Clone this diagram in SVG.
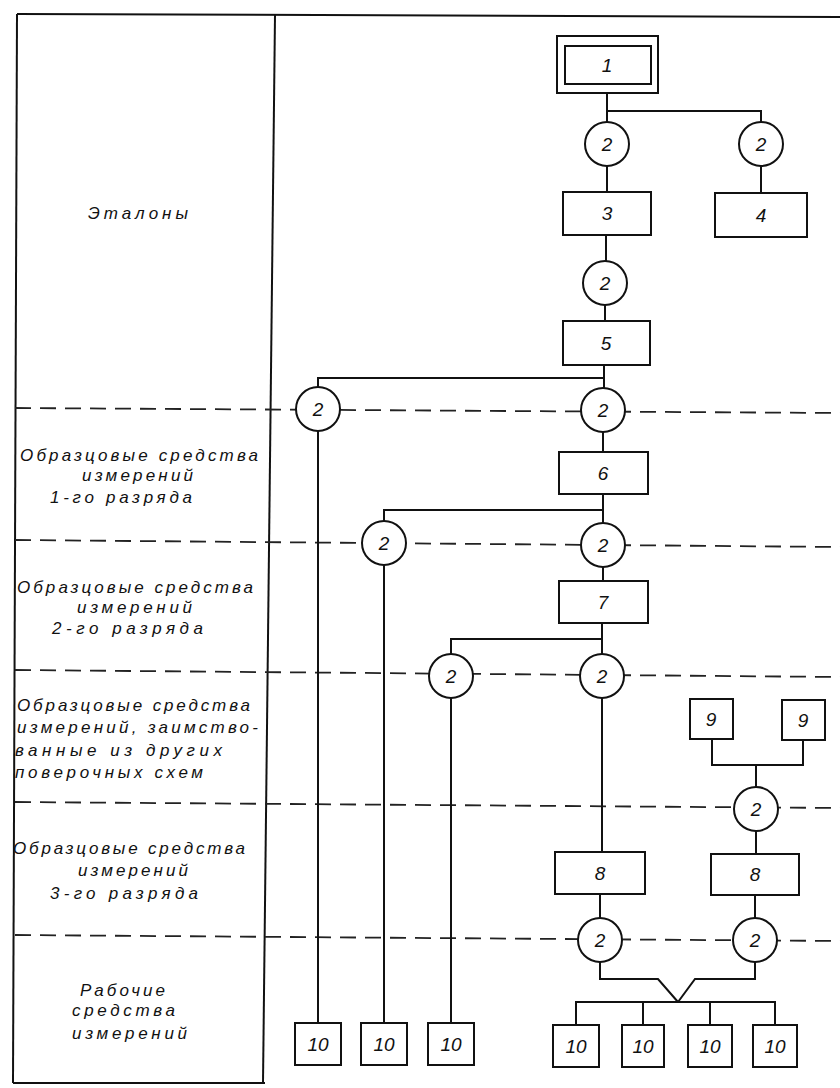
<svg xmlns="http://www.w3.org/2000/svg" width="840" height="1088" viewBox="0 0 840 1088">
<style>
.frame{stroke:#111;stroke-width:2;fill:none}
.dash{stroke:#222;stroke-width:1.8;fill:none;stroke-dasharray:16 9}
.box{fill:#fff;stroke:#111;stroke-width:2}
.circ{fill:#fff;stroke:#111;stroke-width:2}
.wire{stroke:#111;stroke-width:2;fill:none}
.num{font-family:"Liberation Sans",Arial,sans-serif;font-style:italic;font-size:19px;fill:#111;text-anchor:middle}
.lbl{font-family:"Liberation Sans",Arial,sans-serif;font-style:italic;font-size:17px;fill:#111}
</style>
<rect width="840" height="1088" fill="#fff"/>
<g id="frame">
<line class="frame" x1="17" y1="14" x2="840" y2="17"/>
<line class="frame" x1="17" y1="14" x2="13" y2="1083"/>
<line class="frame" x1="275" y1="15" x2="263" y2="1083"/>
<line class="frame" x1="13" y1="1083" x2="265" y2="1083"/>
<line class="dash" x1="15" y1="408" x2="840" y2="413"/>
<line class="dash" x1="15" y1="540" x2="840" y2="547"/>
<line class="dash" x1="15" y1="670" x2="840" y2="677"/>
<line class="dash" x1="15" y1="802" x2="840" y2="808"/>
<line class="dash" x1="15" y1="935" x2="840" y2="941"/>
</g>
<g id="labels">
<text class="lbl" x="88" y="219" textLength="100" lengthAdjust="spacing">Эталоны</text>
<text class="lbl" x="20" y="461" textLength="238" lengthAdjust="spacing">Образцовые средства</text>
<text class="lbl" x="82" y="481" textLength="111" lengthAdjust="spacing">измерений</text>
<text class="lbl" x="50" y="503" textLength="142" lengthAdjust="spacing">1-го  разряда</text>
<text class="lbl" x="17" y="593" textLength="236" lengthAdjust="spacing">Образцовые средства</text>
<text class="lbl" x="77" y="613" textLength="115" lengthAdjust="spacing">измерений</text>
<text class="lbl" x="52" y="634" textLength="151" lengthAdjust="spacing">2-го  разряда</text>
<text class="lbl" x="17" y="711" textLength="233" lengthAdjust="spacing">Образцовые средства</text>
<text class="lbl" x="17" y="733" textLength="241" lengthAdjust="spacing">измерений, заимство-</text>
<text class="lbl" x="15" y="756" textLength="207" lengthAdjust="spacing">ванные из других</text>
<text class="lbl" x="15" y="778" textLength="188" lengthAdjust="spacing">поверочных схем</text>
<text class="lbl" x="13" y="854" textLength="232" lengthAdjust="spacing">Образцовые средства</text>
<text class="lbl" x="78" y="876" textLength="110" lengthAdjust="spacing">измерений</text>
<text class="lbl" x="50" y="899" textLength="148" lengthAdjust="spacing">3-го  разряда</text>
<text class="lbl" x="80" y="996" textLength="85" lengthAdjust="spacing">Рабочие</text>
<text class="lbl" x="72" y="1016" textLength="103" lengthAdjust="spacing">средства</text>
<text class="lbl" x="72" y="1039" textLength="115" lengthAdjust="spacing">измерений</text>
</g>
<g id="connectors">
<polyline class="wire" points="607,93 607,122"/>
<polyline class="wire" points="607,111 761,111 761,122"/>
<polyline class="wire" points="607,166 607,192"/>
<polyline class="wire" points="761,166 761,193"/>
<polyline class="wire" points="606,235 606,261"/>
<polyline class="wire" points="605,305 605,321"/>
<polyline class="wire" points="604,365 604,389"/>
<polyline class="wire" points="604,378 318,378 318,388"/>
<polyline class="wire" points="603,432 603,452"/>
<polyline class="wire" points="603,494 603,523"/>
<polyline class="wire" points="603,510 384,510 384,521"/>
<polyline class="wire" points="603,567 603,581"/>
<polyline class="wire" points="602,623 602,654"/>
<polyline class="wire" points="602,639 451,639 451,654"/>
<polyline class="wire" points="602,698 602,852"/>
<polyline class="wire" points="318,431 318,1023"/>
<polyline class="wire" points="384,565 384,1023"/>
<polyline class="wire" points="451,698 451,1023"/>
<polyline class="wire" points="712,739 712,765 803,765 803,740"/>
<polyline class="wire" points="756,765 756,787"/>
<polyline class="wire" points="756,831 756,854"/>
<polyline class="wire" points="600,894 600,918"/>
<polyline class="wire" points="755,895 755,918"/>
<polyline class="wire" points="600,962 600,979 658,979 678,1002"/>
<polyline class="wire" points="755,962 755,979 695,979 678,1002"/>
<polyline class="wire" points="576,1025 576,1002 775,1002 775,1025"/>
<polyline class="wire" points="643,1002 643,1025"/>
<polyline class="wire" points="710,1002 710,1025"/>
</g>
<g id="n1"><rect class="box" x="557" y="36" width="101" height="57"/><rect class="box" x="565" y="46" width="86" height="38"/><text class="num" x="607" y="72">1</text></g>
<g id="c2a"><circle class="circ" cx="607" cy="144" r="22"/><text class="num" x="607" y="151">2</text></g>
<g id="c2b"><circle class="circ" cx="761" cy="144" r="22"/><text class="num" x="761" y="151">2</text></g>
<g id="n3"><rect class="box" x="563" y="192" width="88" height="43"/><text class="num" x="607" y="220">3</text></g>
<g id="n4"><rect class="box" x="715" y="193" width="92" height="44"/><text class="num" x="761" y="222">4</text></g>
<g id="c2c"><circle class="circ" cx="605" cy="283" r="22"/><text class="num" x="605" y="290">2</text></g>
<g id="n5"><rect class="box" x="563" y="321" width="87" height="44"/><text class="num" x="606" y="350">5</text></g>
<g id="c2d"><circle class="circ" cx="603" cy="410" r="22"/><text class="num" x="603" y="417">2</text></g>
<g id="c2e"><circle class="circ" cx="318" cy="409" r="22"/><text class="num" x="318" y="416">2</text></g>
<g id="n6"><rect class="box" x="559" y="452" width="89" height="42"/><text class="num" x="603" y="480">6</text></g>
<g id="c2f"><circle class="circ" cx="603" cy="545" r="22"/><text class="num" x="603" y="552">2</text></g>
<g id="c2g"><circle class="circ" cx="384" cy="543" r="22"/><text class="num" x="384" y="550">2</text></g>
<g id="n7"><rect class="box" x="559" y="581" width="89" height="42"/><text class="num" x="603" y="609">7</text></g>
<g id="c2h"><circle class="circ" cx="602" cy="676" r="22"/><text class="num" x="602" y="683">2</text></g>
<g id="c2i"><circle class="circ" cx="451" cy="676" r="22"/><text class="num" x="451" y="683">2</text></g>
<g id="n9a"><rect class="box" x="690" y="699" width="43" height="40"/><text class="num" x="711" y="726">9</text></g>
<g id="n9b"><rect class="box" x="782" y="700" width="43" height="40"/><text class="num" x="803" y="727">9</text></g>
<g id="c2j"><circle class="circ" cx="756" cy="809" r="22"/><text class="num" x="756" y="816">2</text></g>
<g id="n8a"><rect class="box" x="555" y="852" width="90" height="42"/><text class="num" x="600" y="880">8</text></g>
<g id="n8b"><rect class="box" x="711" y="854" width="88" height="41"/><text class="num" x="755" y="881">8</text></g>
<g id="c2k"><circle class="circ" cx="600" cy="940" r="22"/><text class="num" x="600" y="947">2</text></g>
<g id="c2l"><circle class="circ" cx="755" cy="940" r="22"/><text class="num" x="755" y="947">2</text></g>
<g id="n10a"><rect class="box" x="295" y="1023" width="46" height="42"/><text class="num" x="318" y="1051">10</text></g>
<g id="n10b"><rect class="box" x="361" y="1023" width="46" height="42"/><text class="num" x="384" y="1051">10</text></g>
<g id="n10c"><rect class="box" x="428" y="1023" width="46" height="42"/><text class="num" x="451" y="1051">10</text></g>
<g id="n10d"><rect class="box" x="553" y="1025" width="46" height="42"/><text class="num" x="576" y="1053">10</text></g>
<g id="n10e"><rect class="box" x="622" y="1025" width="42" height="42"/><text class="num" x="643" y="1053">10</text></g>
<g id="n10f"><rect class="box" x="688" y="1025" width="44" height="42"/><text class="num" x="710" y="1053">10</text></g>
<g id="n10g"><rect class="box" x="753" y="1025" width="44" height="42"/><text class="num" x="775" y="1053">10</text></g>
</svg>
